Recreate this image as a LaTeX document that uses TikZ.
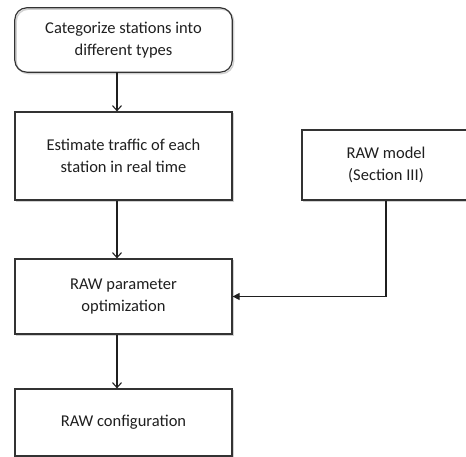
\documentclass[tikz,border=0pt]{standalone}
\usepackage{fontspec}
\setmainfont{Carlito}
\usetikzlibrary{arrows.meta}
\begin{document}
\begin{tikzpicture}[x=1pt,y=1pt,
  every node/.style={font=\fontsize{16.5}{22}\selectfont, text=black!88, align=center},
  boxst/.style={draw=black!80, line width=1.2pt, fill=white, inner sep=0pt,
    preaction={draw=black!18, line width=1.4pt, transform canvas={shift={(1.4pt,-1.4pt)}}}},
  roundst/.style={draw=black!80, line width=1.2pt, rounded corners=12pt,
    preaction={draw=black!18, line width=1.4pt, transform canvas={shift={(1.4pt,-1.4pt)}}}},
  flow/.style={draw=black!88, line width=1.1pt, -{Straight Barb[length=5pt,width=9pt]}},
  feed/.style={draw=black!88, line width=1.1pt, -{Triangle[length=7pt,width=7pt]}}
]
\useasboundingbox (0,0) rectangle (466,-457);
\clip (0,0) rectangle (466,-457);
\node[inner sep=0pt, minimum width=217pt, minimum height=64pt] (b1) at (123.5,-40) {Categorize stations into\\different types};
\draw[roundst] (b1.south west) rectangle (b1.north east);
\node[boxst, minimum width=217pt, minimum height=88pt] (b2) at (123.5,-156) {Estimate traffic of each\\station in real time};
\node[boxst, minimum width=168pt, minimum height=70pt] (b3) at (386,-165) {RAW model\\(Section III)};
\node[boxst, minimum width=217pt, minimum height=75pt] (b4) at (123.5,-296.5) {RAW parameter\\optimization};
\node[boxst, minimum width=217pt, minimum height=67pt] (b5) at (123.5,-422.5) {RAW configuration};
\draw[flow] ([xshift=-6.5pt]b1.south) -- ([xshift=-6.5pt]b2.north);
\draw[flow] ([xshift=-6.5pt]b2.south) -- ([xshift=-6.5pt]b4.north);
\draw[flow] ([xshift=-6.5pt]b4.south) -- ([xshift=-6.5pt]b5.north);
\draw[feed] (b3.south) |- (b4.east);
\end{tikzpicture}
\end{document}
